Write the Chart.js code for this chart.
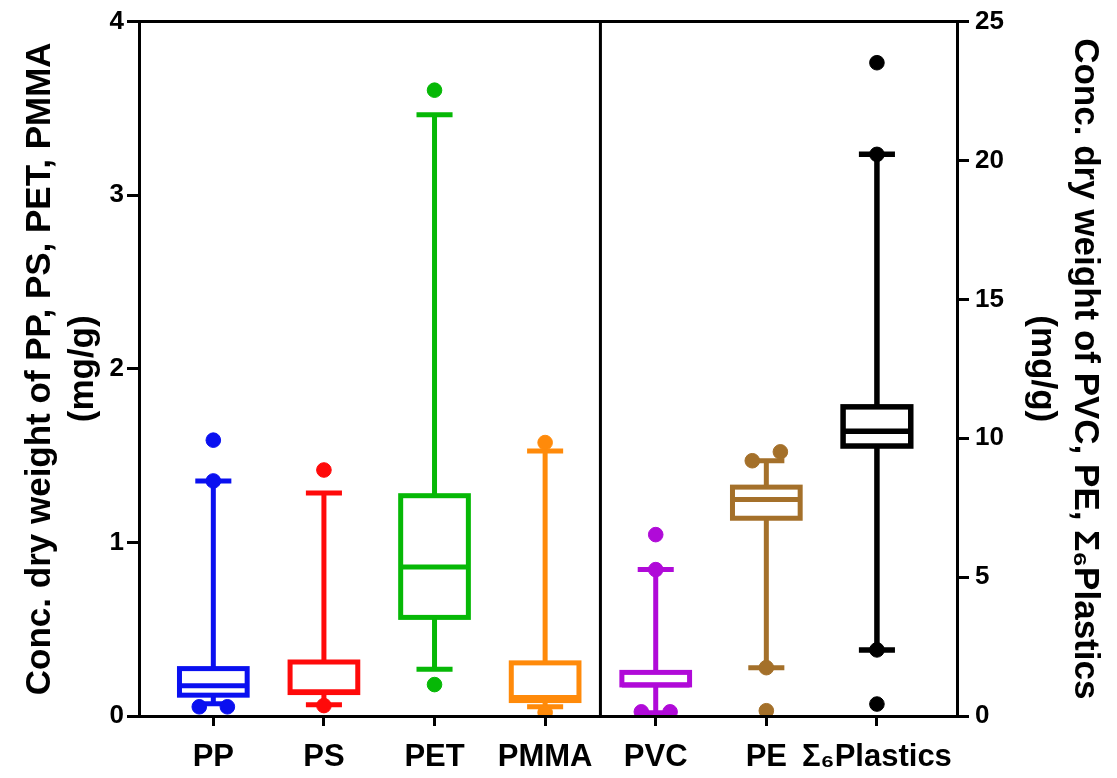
<!DOCTYPE html>
<html>
<head>
<meta charset="utf-8">
<script src="https://cdn.jsdelivr.net/npm/chart.js@4/dist/chart.umd.min.js"></script>
<style>
  html, body { margin: 0; padding: 0; background: #ffffff; }
  #wrap { width: 1117px; height: 778px; position: relative; }
</style>
</head>
<body>
<div id="wrap"><canvas id="chart"></canvas></div>
<script>
// Polymer groups along the x axis
const categories = ['PP', 'PS', 'PET', 'PMMA', 'PVC', 'PE', 'Σ₆Plastics'];
// Which y axis each group is read against (left: mg/g small, right: mg/g large)
const axisOf = ['y', 'y', 'y', 'y', 'y2', 'y2', 'y2'];
const colors = ['#0a10f0', '#ff0a0a', '#06b806', '#ff8a0a', '#b00ad8', '#a4702a', '#000000'];

// Box-and-whisker statistics (mg/g dry weight)
const whiskerLow  = [0.070, 0.065, 0.270, 0.053, 0.12, 1.74, 2.38];
const q1          = [0.120, 0.135, 0.568, 0.089, 1.12, 7.12, 9.72];
const median      = [0.174, 0.140, 0.858, 0.106, 1.12, 7.79, 10.25];
const q3          = [0.273, 0.311, 1.269, 0.306, 1.57, 8.24, 11.13];
const whiskerHigh = [1.354, 1.284, 3.464, 1.526, 5.27, 9.19, 20.22];

// Individual points plotted over the boxes, with a small sideways offset
const pointValues = [
  [1.589, 1.354, 0.053, 0.053],
  [1.417, 0.060],
  [3.605, 0.181],
  [1.575, 0.020],
  [6.53, 5.27, 0.15, 0.15],
  [9.19, 9.51, 1.74, 0.19],
  [23.52, 20.22, 2.38, 0.43]
];
const pointOffsets = [
  [0, 0, -0.127, 0.127],
  [0, 0],
  [0, 0],
  [0, 0],
  [0, 0, -0.13, 0.13],
  [-0.127, 0.127, 0, 0],
  [0, 0, 0, 0]
];

// Axis tick values
const leftTicks = [0, 1, 2, 3, 4];
const rightTicks = [0, 5, 10, 15, 20, 25];

const FONT = "'Liberation Sans', Arial, Helvetica, sans-serif";

const datasets = categories.map((name, i) => ({
  type: 'scatter',
  label: name,
  yAxisID: axisOf[i],
  data: pointValues[i].map((v, k) => ({ x: i + pointOffsets[i][k], y: v })),
  backgroundColor: colors[i],
  borderColor: colors[i],
  pointRadius: 7.3,
  pointBorderWidth: 1,
  clip: 0
}));

// Draws boxes, whiskers, caps and the plot frame from the statistics arrays
const boxPlotPlugin = {
  id: 'boxPlot',
  beforeDatasetsDraw(chart) {
    const ctx = chart.ctx;
    const xs = chart.scales.x;
    ctx.save();
    ctx.lineCap = 'butt';
    categories.forEach((name, i) => {
      const ys = chart.scales[axisOf[i]];
      const cx = xs.getPixelForValue(i);
      const halfBox = xs.getPixelForValue(i + 0.306) - cx;
      const halfCap = xs.getPixelForValue(i + 0.163) - cx;
      const yLo = ys.getPixelForValue(whiskerLow[i]);
      const yQ1 = ys.getPixelForValue(q1[i]);
      const yMed = ys.getPixelForValue(median[i]);
      const yQ3 = ys.getPixelForValue(q3[i]);
      const yHi = ys.getPixelForValue(whiskerHigh[i]);
      const lw = i === 6 ? 5.5 : 5;
      ctx.strokeStyle = colors[i];
      ctx.lineWidth = lw;
      // whiskers
      ctx.beginPath();
      ctx.moveTo(cx, yQ3); ctx.lineTo(cx, yHi);
      ctx.moveTo(cx, yQ1); ctx.lineTo(cx, yLo);
      ctx.stroke();
      // caps
      ctx.beginPath();
      ctx.moveTo(cx - halfCap, yHi); ctx.lineTo(cx + halfCap, yHi);
      ctx.moveTo(cx - halfCap, yLo); ctx.lineTo(cx + halfCap, yLo);
      ctx.stroke();
      // box
      ctx.fillStyle = '#ffffff';
      ctx.fillRect(cx - halfBox, yQ3, halfBox * 2, yQ1 - yQ3);
      ctx.strokeRect(cx - halfBox, yQ3, halfBox * 2, yQ1 - yQ3);
      // median
      ctx.beginPath();
      ctx.moveTo(cx - halfBox, yMed); ctx.lineTo(cx + halfBox, yMed);
      ctx.stroke();
    });
    // top edge of the frame and the divider between the two y scales
    const area = chart.chartArea;
    const xDiv = xs.getPixelForValue(3.5);
    ctx.strokeStyle = '#000000';
    ctx.lineWidth = 3;
    ctx.beginPath();
    ctx.moveTo(area.left, area.top); ctx.lineTo(area.right, area.top);
    ctx.moveTo(xDiv, area.top); ctx.lineTo(xDiv, area.bottom);
    ctx.stroke();
    ctx.restore();
  }
};

new Chart(document.getElementById('chart'), {
  data: { datasets },
  plugins: [boxPlotPlugin],
  options: {
    responsive: true,
    maintainAspectRatio: false,
    animation: false,
    layout: { padding: { top: 17, left: 0, right: 0, bottom: 0 } },
    plugins: { legend: { display: false }, tooltip: { enabled: false } },
    scales: {
      x: {
        type: 'linear',
        min: -0.672,
        max: 6.724,
        afterBuildTicks(scale) { scale.ticks = categories.map((c, i) => ({ value: i })); },
        afterFit(scale) { scale.height = 62; },
        ticks: {
          callback: (v) => categories[v],
          color: '#000',
          font: { family: FONT, size: 31, weight: 'bold' },
          padding: 13,
          maxRotation: 0,
          autoSkip: false
        },
        grid: { drawOnChartArea: false, drawTicks: true, tickLength: 10, color: '#000', lineWidth: 3 },
        border: { display: true, color: '#000', width: 3, z: 1 }
      },
      y: {
        type: 'linear',
        position: 'left',
        min: 0,
        max: 4,
        afterBuildTicks(scale) { scale.ticks = leftTicks.map(v => ({ value: v })); },
        afterFit(scale) { scale.width = 139; },
        ticks: {
          color: '#000',
          font: { family: FONT, size: 26, weight: 'bold' },
          padding: 3
        },
        grid: { drawOnChartArea: false, drawTicks: true, tickLength: 12, color: '#000', lineWidth: 3 },
        border: { display: true, color: '#000', width: 3, z: 1 },
        title: {
          display: true,
          text: ['Conc. dry weight of PP, PS, PET, PMMA', '(mg/g)'],
          color: '#000',
          font: { family: FONT, size: 35, weight: 'bold', lineHeight: 1.25 },
          padding: { top: 18, bottom: 0 }
        }
      },
      y2: {
        type: 'linear',
        position: 'right',
        min: 0,
        max: 25,
        afterBuildTicks(scale) { scale.ticks = rightTicks.map(v => ({ value: v })); },
        afterFit(scale) { scale.width = 160; },
        ticks: {
          color: '#000',
          font: { family: FONT, size: 26, weight: 'bold' },
          padding: 6
        },
        grid: { drawOnChartArea: false, drawTicks: true, tickLength: 12, color: '#000', lineWidth: 3 },
        border: { display: true, color: '#000', width: 3, z: 1 },
        title: {
          display: true,
          text: ['Conc. dry weight of PVC, PE, Σ₆Plastics', '(mg/g)'],
          color: '#000',
          font: { family: FONT, size: 35, weight: 'bold', lineHeight: 1.25 },
          padding: { top: 10, bottom: 0 }
        }
      }
    }
  }
});
</script>
</body>
</html>
